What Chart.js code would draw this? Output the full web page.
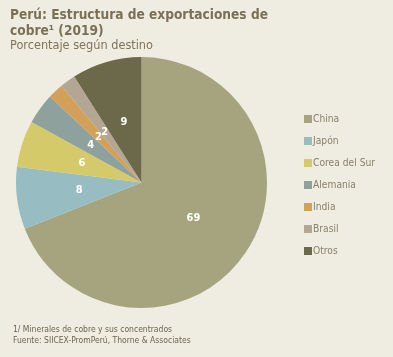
<!DOCTYPE html>
<html><head><meta charset="utf-8">
<script src="https://cdn.jsdelivr.net/npm/chart.js@4"></script>
<style>
html,body{margin:0;padding:0;background:#efede2;width:393px;height:357px;overflow:hidden;}
#wrap{position:relative;width:393px;height:357px;}
canvas{position:absolute;left:0;top:0;}
.t{position:absolute;left:10px;font-family:"DejaVu Sans Condensed","DejaVu Sans",sans-serif;color:#7a7056;white-space:nowrap;}
#title{top:6px;font-size:13.6px;font-weight:bold;line-height:16px;}
#sub{top:37px;font-size:12.6px;line-height:15px;color:#7d7559;}
#foot{position:absolute;left:13px;top:324px;font-family:"DejaVu Sans Condensed","DejaVu Sans",sans-serif;font-size:8.5px;line-height:11px;color:#6b6550;white-space:nowrap;}
#legend{position:absolute;left:304px;top:0;font-family:"DejaVu Sans Condensed","DejaVu Sans",sans-serif;font-size:10.2px;color:#888269;}
.li{position:absolute;left:0;height:12px;line-height:12px;white-space:nowrap;}
.bx{position:absolute;left:0;top:2px;width:8px;height:8px;}
.lt{position:absolute;left:9px;top:0;}
</style></head>
<body><div id="wrap">
<canvas id="c" width="393" height="357"></canvas>
<div class="t" id="title">Perú: Estructura de exportaciones de<br>cobre¹ (2019)</div>
<div class="t" id="sub">Porcentaje según destino</div>
<div id="legend"></div>
<div id="foot">1/ Minerales de cobre y sus concentrados<br>Fuente: SIICEX-PromPerú, Thorne &amp; Associates</div>
</div>
<script>
const categories = ["China","Japón","Corea del Sur","Alemania","India","Brasil","Otros"];
const values = [69, 8, 6, 4, 2, 2, 9];
const colors = ["#a6a47e","#97bdc3","#d4ca6a","#8fa19d","#d3a05a","#b3a692","#6b6949"];

const lg = document.getElementById('legend');
categories.forEach((c,i)=>{
  const d=document.createElement('div');d.className='li';d.style.top=(113+22*i)+'px';
  d.innerHTML='<span class="bx" style="background:'+colors[i]+'"></span><span class="lt">'+c+'</span>';
  lg.appendChild(d);
});

const labelPlugin = {
  id:'sliceLabels',
  afterDatasetsDraw(chart){
    const ctx=chart.ctx;
    const meta=chart.getDatasetMeta(0);
    ctx.save();
    ctx.fillStyle='#ffffff';
    ctx.font='bold 11px "DejaVu Sans Condensed","DejaVu Sans",sans-serif';
    ctx.textAlign='center';ctx.textBaseline='middle';
    meta.data.forEach((arc,i)=>{
      const p=arc.tooltipPosition();
      ctx.fillText(String(values[i]),p.x,p.y);
    });
    ctx.restore();
  }
};

new Chart(document.getElementById('c'),{
  type:'pie',
  data:{labels:categories,datasets:[{data:values,backgroundColor:colors,borderWidth:0}]},
  options:{
    responsive:false,animation:false,
    layout:{padding:{left:16,top:57,right:126,bottom:49}},
    plugins:{legend:{display:false},tooltip:{enabled:false}}
  },
  plugins:[labelPlugin]
});
</script>
</body></html>
